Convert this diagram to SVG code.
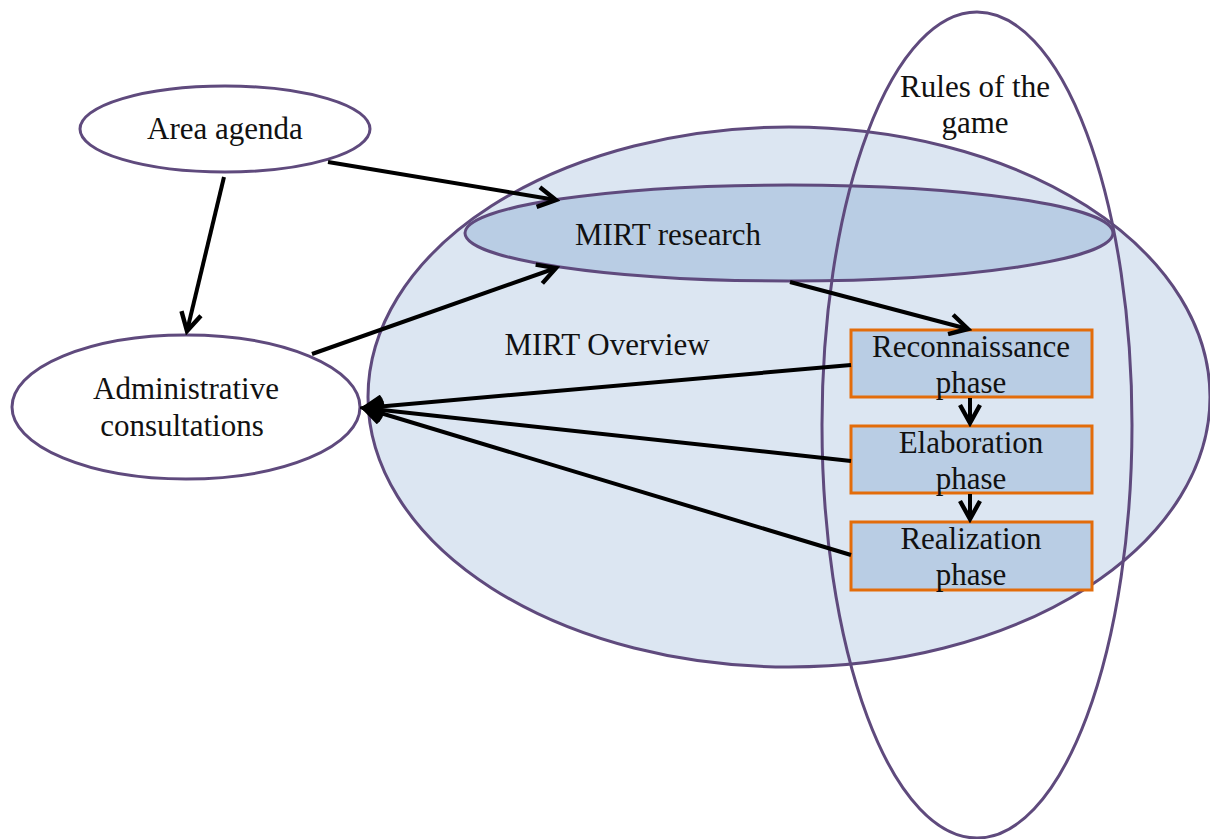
<svg xmlns="http://www.w3.org/2000/svg" width="1210" height="839" viewBox="0 0 1210 839">
<style>
.t{font-family:"Liberation Serif","Times New Roman",serif;font-size:31px;fill:#111;text-anchor:middle}
.ell{stroke:#5f4a7d;stroke-width:3}
.box{fill:#b9cde4;stroke:#e36c0a;stroke-width:3}
.c{stroke:#000;stroke-width:4;fill:none;marker-end:url(#ah)}
</style>
<defs>
<marker id="ah" viewBox="0 0 12 12" refX="10" refY="6" markerWidth="6" markerHeight="6" markerUnits="strokeWidth" orient="auto">
<path d="M1,1 L10,6 L1,11" fill="none" stroke="#000" stroke-width="2.2"/>
</marker>
</defs>
<rect width="1210" height="839" fill="#fff"/>
<g id="overview">
<ellipse class="ell" cx="789" cy="397" rx="421" ry="270" fill="#dce6f2"/>
<text class="t" x="607" y="355">MIRT Overview</text>
</g>
<g id="mirt-research">
<ellipse class="ell" cx="789" cy="233" rx="324" ry="48" fill="#b9cde4"/>
<text class="t" x="668" y="245">MIRT research</text>
</g>
<g id="area-agenda">
<ellipse class="ell" cx="225" cy="129" rx="145" ry="43" fill="#fff"/>
<text class="t" x="225" y="139">Area agenda</text>
</g>
<g id="admin">
<ellipse class="ell" cx="186" cy="407" rx="174" ry="72" fill="#fff"/>
<text class="t" x="186" y="399">Administrative</text>
<text class="t" x="182" y="436">consultations</text>
</g>
<g id="reconnaissance">
<rect class="box" x="851" y="330" width="241" height="67"/>
<text class="t" x="971" y="357">Reconnaissance</text>
<text class="t" x="971" y="393">phase</text>
</g>
<g id="elaboration">
<rect class="box" x="851" y="426" width="241" height="67"/>
<text class="t" x="971" y="453">Elaboration</text>
<text class="t" x="971" y="489">phase</text>
</g>
<g id="realization">
<rect class="box" x="851" y="522" width="241" height="68"/>
<text class="t" x="971" y="549">Realization</text>
<text class="t" x="971" y="585">phase</text>
</g>
<g id="rules">
<ellipse class="ell" cx="977" cy="425" rx="155" ry="413" fill="none"/>
<text class="t" x="975" y="97">Rules of the</text>
<text class="t" x="975" y="133">game</text>
</g>
<g id="connectors">
<line class="c" x1="328" y1="162" x2="556" y2="200"/>
<line class="c" x1="224" y1="177" x2="187" y2="331"/>
<line class="c" x1="312" y1="354" x2="556" y2="268"/>
<line class="c" x1="790" y1="282" x2="968" y2="329"/>
<line class="c" x1="851" y1="365" x2="364" y2="408"/>
<line class="c" x1="851" y1="461" x2="364" y2="408"/>
<line class="c" x1="851" y1="555" x2="364" y2="408"/>
<line class="c" x1="970" y1="398" x2="970" y2="423"/>
<line class="c" x1="970" y1="494" x2="970" y2="519"/>
</g>
</svg>
